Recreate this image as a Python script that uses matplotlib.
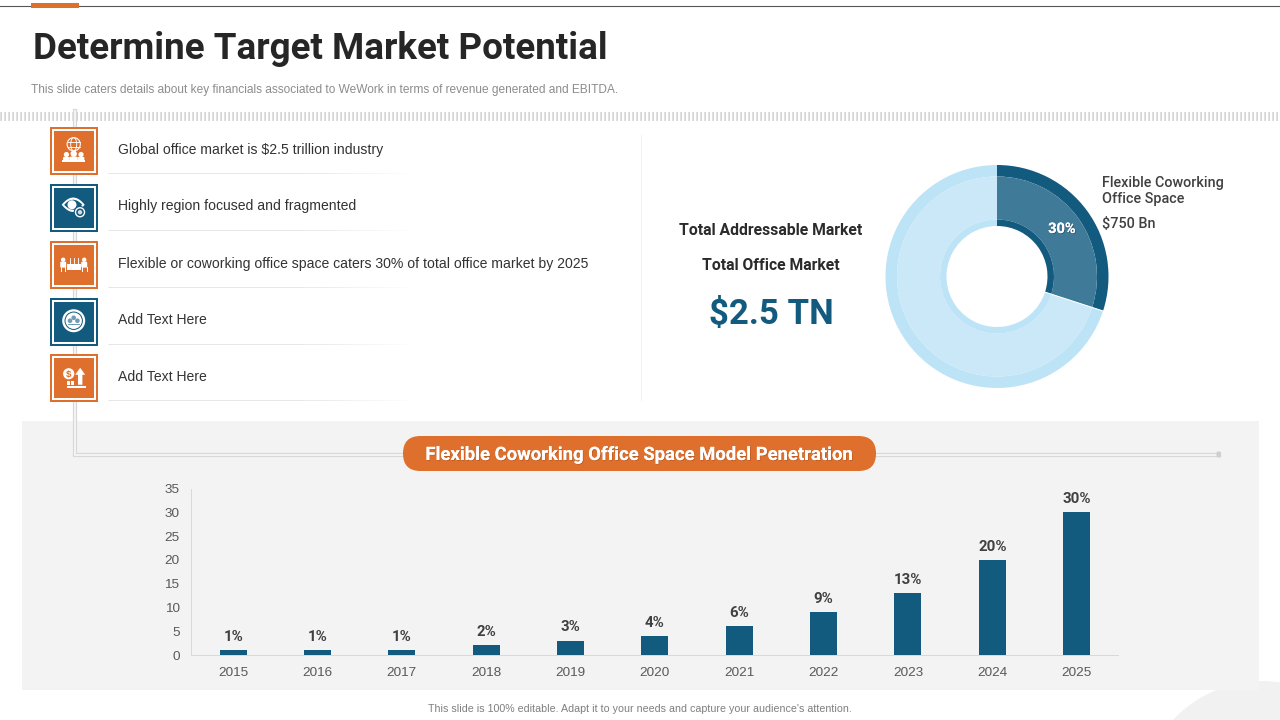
import numpy as np
import matplotlib
matplotlib.use("Agg")
import matplotlib.pyplot as plt
from matplotlib.patches import Rectangle, Circle, Ellipse, FancyBboxPatch, Polygon
from matplotlib.collections import LineCollection
import matplotlib.patheffects as pe

# ---------- data ----------
years = ["2015","2016","2017","2018","2019","2020","2021","2022","2023","2024","2025"]
penetration = [1, 1, 1, 2, 3, 4, 6, 9, 13, 20, 30]
y_ticks = [0, 5, 10, 15, 20, 25, 30, 35]
donut_values = [30, 70]
bullets = ["Global office market is $2.5 trillion industry",
           "Highly region focused and fragmented",
           "Flexible or coworking office space caters 30% of total office market by 2025",
           "Add Text Here",
           "Add Text Here"]

ORANGE = "#df6f2d"
BLUE = "#135a7f"
W, H = 1280, 720
TITLE_FONT = ["Roboto", "DejaVu Sans"]
BODY_FONT = ["Liberation Sans", "DejaVu Sans"]

fig = plt.figure(figsize=(12.8, 7.2), dpi=100, facecolor="white")

def px_axes(l, t, r, b, **kw):
    return fig.add_axes([l / W, 1 - b / H, (r - l) / W, (b - t) / H], **kw)

bg = fig.add_axes([0, 0, 1, 1])
bg.set_xlim(0, W); bg.set_ylim(H, 0); bg.axis("off")
bg.set_zorder(0)
LW = 0.72  # points per pixel

# header
bg.add_patch(Circle((1262, 802), 121, fc="#f1f1f1", ec="none", zorder=0))
bg.plot([0, W], [6, 6], color="#555555", lw=1.1 * LW, zorder=1)
bg.add_patch(Rectangle((31, 3), 48, 5, fc=ORANGE, ec="none", zorder=2))
bg.text(33, 49, "Determine Target Market Potential", fontsize=26.45, fontweight="bold",
        family=TITLE_FONT, color="#262626", va="center", ha="left")
bg.text(31, 90, "This slide caters details about key financials associated to WeWork in terms of revenue generated and EBITDA.",
        fontsize=8.6, family=BODY_FONT, color="#8c8c8c", va="center", ha="left")
stripe, = bg.plot([0, W], [115.5, 115.5], color="#c4c4c4", lw=9 * LW, solid_capstyle="butt", zorder=1)
stripe.set_dashes([1.2 / 9, 2.8 / 9])
stripe.set_dash_capstyle("butt")

# panel
bg.add_patch(Rectangle((22, 421), 1237, 269, fc="#f3f3f3", ec="none", zorder=1))

# connector
cx = [74.5, 74.5, 1219]
cy = [111, 454.5, 454.5]
bg.plot(cx, cy, color="#d8d8d8", lw=4.2 * LW, solid_joinstyle="miter", zorder=2)
bg.plot(cx, cy, color="#f7f7f7", lw=1.8 * LW, solid_joinstyle="miter", zorder=2.1)
bg.add_patch(FancyBboxPatch((1216.5, 451.5), 4.5, 6, boxstyle="round,pad=0,rounding_size=1.5",
                            fc="#cfcfcf", ec="none", zorder=2.2))

# separators
bg.plot([640.5, 640.5], [135, 400], color="#f2f2f2", lw=1 * LW, zorder=1)
row_sep_y = [173.2, 230.2, 287.2, 344.2, 400.2]
for y in row_sep_y:
    xs = np.linspace(108, 412, 60)
    segs = [[(xs[i], y), (xs[i + 1], y)] for i in range(59)]
    fade = np.clip((412 - xs[:-1]) / 120, 0, 1)
    cols = [(0.9, 0.9, 0.9, a) for a in fade]
    bg.add_collection(LineCollection(segs, colors=cols, linewidths=1 * LW, zorder=1))

# icons
def frame(top, color):
    s = 47.5
    bg.add_patch(Rectangle((50, top), s, s, fc=color, ec="none", zorder=3))
    bg.add_patch(Rectangle((52, top + 2), s - 4, s - 4, fc="white", ec="none", zorder=3.1))
    bg.add_patch(Rectangle((54, top + 4), s - 8, s - 8, fc=color, ec="none", zorder=3.2))
    return 73.7, top + s / 2

def white(p):
    p.set_zorder(4); bg.add_patch(p)

def person(x, y, r=2.6, h=3.5):
    white(Circle((x, y), r, fc="white", ec="none"))
    white(FancyBboxPatch((x - r - .8, y + r - .3), 2 * r + 1.6, h, boxstyle="round,pad=0,rounding_size=1.2", fc="white", ec="none"))

def icon_globe(c, y):
    white(Circle((c, y - 6.5), 6.6, fc="none", ec="white", lw=1.1 * LW))
    white(Ellipse((c, y - 6.5), 6, 13, fc="none", ec="white", lw=.9 * LW))
    for dy in (-9, -4):
        bg.plot([c - 6, c + 6], [y + dy, y + dy], color="white", lw=.9 * LW, zorder=4)
    person(c, y + 3, 3.2, 4); person(c - 7.3, y + 3.8, 2.6, 3.5); person(c + 7.3, y + 3.8, 2.6, 3.5)
    white(Rectangle((c - 11.5, y + 9), 23, 2.2, fc="white", ec="none"))

def icon_eye(c, y):
    t = np.linspace(-1, 1, 40)
    top_edge = [(c - 0.5 + 11.5 * a, y - 3 - 7.2 * (1 - a * a)) for a in t]
    bot_edge = [(c - 0.5 + 11.5 * a, y - 3 + 7.2 * (1 - a * a)) for a in t[::-1]]
    white(Polygon(top_edge + bot_edge, closed=True, fc="white", ec="none"))
    top_in = [(c - 0.5 + 9 * a, y - 3 - 5 * (1 - a * a)) for a in t]
    bot_in = [(c - 0.5 + 9 * a, y - 3 + 5 * (1 - a * a)) for a in t[::-1]]
    white(Polygon(top_in + bot_in, closed=True, fc=BLUE, ec="none"))
    white(Circle((c - 1.7, y - 3), 4.5, fc="white", ec="none"))
    bg.add_patch(Circle((c + 6.3, y + 4.5), 6.3, fc=BLUE, ec="none", zorder=4.1))
    bg.add_patch(Circle((c + 6.3, y + 4.5), 5.2, fc="white", ec="none", zorder=4.2))
    bg.add_patch(Circle((c + 6.3, y + 4.5), 3.8, fc=BLUE, ec="none", zorder=4.3))
    bg.add_patch(Circle((c + 6.3, y + 4.5), 2.2, fc="#cfe0ea", ec="none", zorder=4.4))

def icon_table(c, y):
    white(Rectangle((c - 7, y - 1), 14.5, 6, fc="white", ec="none"))
    person(c - 10.5, y - 5, 2.2, 6); person(c + 10.5, y - 5, 2.2, 6)
    for dx in (-4, 0, 4):
        bg.plot([c + dx, c + dx], [y - 7, y - 2], color="white", lw=.9 * LW, zorder=4)
    for dx in (-13, -8.5, 8.5, 13):
        bg.plot([c + dx, c + dx], [y + 2, y + 6], color="white", lw=1 * LW, zorder=4)

def icon_target(c, y):
    y = y - 1
    white(Circle((c, y), 11.5, fc="white", ec="none"))
    bg.add_patch(Circle((c, y), 9.2, fc=BLUE, ec="none", zorder=4.1))
    bg.add_patch(Circle((c, y), 8.2, fc="white", ec="none", zorder=4.2))
    for dx, dy in ((0, -3), (-3.7, 0), (3.7, 0)):
        bg.add_patch(Circle((c + dx, y + dy), 2.3, fc="#6f9cb4", ec="none", zorder=4.3))
    bg.add_patch(Rectangle((c - 6, y + 3), 12, 1.6, fc="#6f9cb4", ec="none", zorder=4.3))

def icon_money(c, y):
    white(Circle((c - 5, y - 4), 5.6, fc="white", ec="none"))
    bg.text(c - 5, y - 3.7, "$", color=ORANGE, fontsize=6.8, fontweight="bold", ha="center", va="center",
            family=BODY_FONT, zorder=5)
    white(Polygon([(c + 6.5, y - 10), (c + 11.5, y - 3), (c + 8.7, y - 3), (c + 8.7, y + 7), (c + 4.3, y + 7), (c + 4.3, y - 3), (c + 1.5, y - 3)],
                  fc="white", ec="none"))
    white(Rectangle((c - 6.5, y + 3.5), 3, 3.5, fc="white", ec="none"))
    white(Rectangle((c - 2.5, y + 3), 3, 4, fc="white", ec="none"))
    white(Rectangle((c - 7, y + 8.5), 19, 2, fc="white", ec="none"))

box_tops = [127, 184, 241, 298, 354]
box_cols = [ORANGE, BLUE, ORANGE, BLUE, ORANGE]
icons = [icon_globe, icon_eye, icon_table, icon_target, icon_money]
text_y = [150, 206, 264, 320, 377]
for top, col, fn, t, ty in zip(box_tops, box_cols, icons, bullets, text_y):
    c, y = frame(top, col)
    fn(c, y)
    bg.text(118, ty, t, fontsize=10.1, family=BODY_FONT, color="#333333", va="center", ha="left", zorder=4)

# market text
bg.text(771, 230.8, "Total Addressable Market", fontsize=11.3, fontweight="bold", family=TITLE_FONT,
        color="#2b2b2b", ha="center", va="center")
bg.text(771, 265.8, "Total Office Market", fontsize=11.3, fontweight="bold", family=TITLE_FONT,
        color="#2b2b2b", ha="center", va="center")
bg.text(771, 314, "$2.5 TN", fontsize=25, fontweight="bold", family=TITLE_FONT,
        color=BLUE, ha="center", va="center")

# donut
R = 111.5
cxp, cyp = 997, 276.5
pie_ax = px_axes(cxp - 1.25 * R, cyp - 1.25 * R, cxp + 1.25 * R, cyp + 1.25 * R)
pie_ax.patch.set_alpha(0)
pie_ax.set_zorder(1)
layers = [(1.0, 11.5 / R, ["#135a7f", "#bde3f6"]),
          (100 / R, 43 / R, ["#3f7a99", "#cae8f7"]),
          (57 / R, 6.5 / R, ["#135a7f", "#bde3f6"])]
for radius, width, colors in layers:
    pie_ax.pie(donut_values, radius=radius, startangle=90, counterclock=False, colors=colors,
               wedgeprops=dict(width=width, edgecolor="none", linewidth=0))
sep = np.deg2rad(90 - 360 * donut_values[0] / sum(donut_values))
pie_ax.plot([np.cos(sep) * 50.5 / R, np.cos(sep)], [np.sin(sep) * 50.5 / R, np.sin(sep)], color="white", lw=1 * LW)
pie_ax.set_xlim(-1.25, 1.25); pie_ax.set_ylim(-1.25, 1.25)

top_ax = fig.add_axes([0, 0, 1, 1]); top_ax.set_xlim(0, W); top_ax.set_ylim(H, 0); top_ax.axis("off"); top_ax.set_zorder(3)
top_ax.text(1062, 229, "30%", fontsize=10.5, fontweight="bold", family=TITLE_FONT, color="white", ha="center", va="center",
            path_effects=[pe.withSimplePatchShadow(offset=(0.6, -0.6), shadow_rgbFace="#222222", alpha=0.4), pe.Normal()])
for x, y, t in [(1102, 183, "Flexible Coworking"), (1102, 199, "Office Space"), (1102, 224, "$750 Bn")]:
    top_ax.text(x, y, t, fontsize=10.4, fontweight="medium", family=TITLE_FONT, color="#404040", ha="left", va="center")

# pill
top_ax.add_patch(FancyBboxPatch((403, 436), 473, 35, boxstyle="round,pad=0,rounding_size=17.5", fc=ORANGE, ec="none"))
top_ax.text(640, 455, "Flexible Coworking Office Space Model Penetration", fontsize=13.3, fontweight="bold",
            family=TITLE_FONT, color="white", ha="center", va="center",
            path_effects=[pe.withSimplePatchShadow(offset=(0.6, -0.6), shadow_rgbFace="#7a3a10", alpha=0.35), pe.Normal()])

# bars
ax = px_axes(191, 488.5, 1118, 655)
ax.set_zorder(2)
ax.patch.set_alpha(0)
x = np.arange(len(years))
ax.bar(x, penetration, width=0.32, color=BLUE)
ax.set_xlim(-0.5, len(years) - 0.51)
ax.set_ylim(0, 35)
ax.set_xticks(x, years)
ax.set_yticks(y_ticks)
ax.tick_params(axis="x", length=0, labelsize=9.7, labelcolor="#595959", pad=8.8)
ax.tick_params(axis="y", length=0, labelsize=9.7, labelcolor="#595959", pad=8.2)
for lab in ax.get_xticklabels() + ax.get_yticklabels():
    lab.set_family(BODY_FONT)
for s in ("top", "right"):
    ax.spines[s].set_visible(False)
for s in ("left", "bottom"):
    ax.spines[s].set_color("#d9d9d9"); ax.spines[s].set_linewidth(1 * LW)
for xi, v in zip(x, penetration):
    ax.annotate(f"{v}%", (xi, v), xytext=(0, 4.5), textcoords="offset points", ha="center", va="bottom",
                fontsize=10.8, fontweight="bold", family=TITLE_FONT, color="#404040")

# footer
top_ax.text(640, 708.5, "This slide is 100% editable. Adapt it to your needs and capture your audience's attention.",
            fontsize=7.7, family=BODY_FONT, color="#7f7f7f", ha="center", va="center")

fig.savefig("out.png", dpi=100)
